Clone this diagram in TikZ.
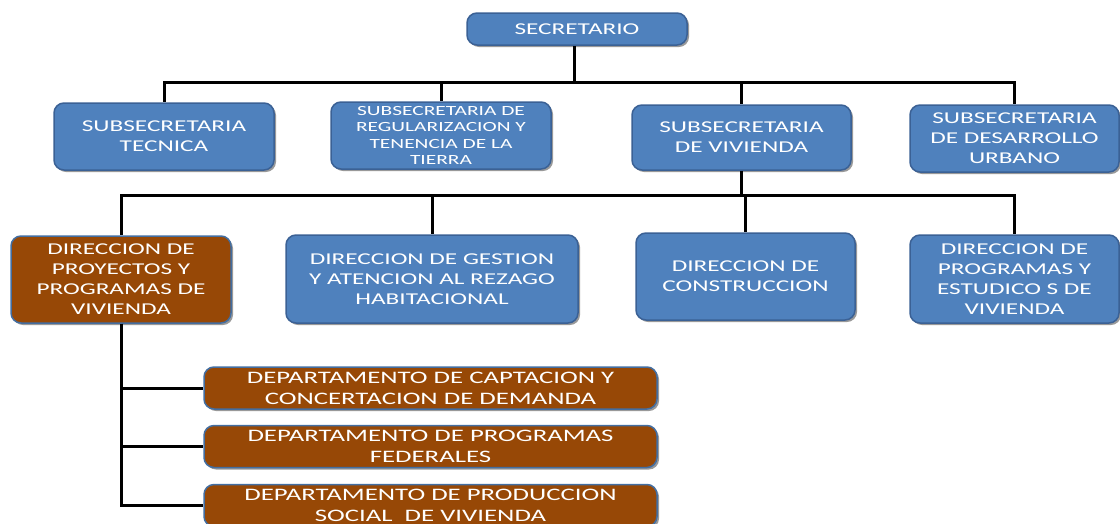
\documentclass[tikz,border=0pt]{standalone}
\usepackage{fontspec}
\setmainfont{Carlito}[FakeStretch=1.53]
\usepackage{xcolor}
\usepackage{tikz}
\usetikzlibrary{shapes,arrows,positioning,shadows}

\definecolor{ofblue}{HTML}{4F81BD}
\definecolor{ofline}{HTML}{3B6195}
\definecolor{ofbrown}{HTML}{974806}

\begin{document}
\begin{tikzpicture}[x=1pt,y=-1pt,
  orgbox/.style={draw=ofline, line width=1.5pt, rounded corners=10pt, text=white, align=center,
    inner sep=0pt, drop shadow={shadow xshift=2pt, shadow yshift=-2pt, fill=black, opacity=0.4}},
  bluebox/.style={orgbox, fill=ofblue},
  brownbox/.style={orgbox, fill=ofbrown, draw=ofblue!85!black},
  conn/.style={line width=3pt, black},
  normtext/.style={font=\fontsize{16.5}{20}\selectfont},
  smalltext/.style={font=\fontsize{14}{16.5}\selectfont},
  deptext/.style={font=\fontsize{17.5}{21}\selectfont}]
\useasboundingbox (0,0) rectangle (1120,523);

% Define nodes
\node[bluebox, normtext, minimum width=220pt, minimum height=32pt] (sec) at (577,29) {SECRETARIO};

\node[bluebox, normtext, minimum width=220pt, minimum height=67pt] (subtec) at (164,136.5) {SUBSECRETARIA\\TECNICA};
\node[bluebox, smalltext, minimum width=220pt, minimum height=67pt] (subreg) at (441,135.5) {SUBSECRETARIA DE\\REGULARIZACION Y\\TENENCIA DE LA\\TIERRA};
\node[bluebox, normtext, minimum width=219pt, minimum height=65pt] (subviv) at (741.5,137.5) {SUBSECRETARIA\\DE VIVIENDA};
\node[bluebox, normtext, minimum width=209pt, minimum height=67pt] (subdes) at (1014.5,138.5) {SUBSECRETARIA\\DE DESARROLLO\\URBANO};

\node[brownbox, normtext, minimum width=220pt, minimum height=87pt] (dirpro) at (121,279.5) {DIRECCION DE\\PROYECTOS Y\\PROGRAMAS DE\\VIVIENDA};
\node[bluebox, normtext, minimum width=292pt, minimum height=88pt] (dirges) at (432,279) {DIRECCION DE GESTION\\Y ATENCION AL REZAGO\\HABITACIONAL};
\node[bluebox, normtext, minimum width=219pt, minimum height=87pt] (dircon) at (745.5,276.5) {DIRECCION DE\\CONSTRUCCION};
\node[bluebox, normtext, minimum width=209pt, minimum height=88pt] (dirprg) at (1014.5,279) {DIRECCION DE\\PROGRAMAS Y\\ESTUDICO S DE\\VIVIENDA};

\node[brownbox, deptext, minimum width=453pt, minimum height=42pt] (depcap) at (430.5,388) {DEPARTAMENTO DE CAPTACION Y\\CONCERTACION DE DEMANDA};
\node[brownbox, deptext, minimum width=453pt, minimum height=42pt] (depfed) at (430.5,446.5) {DEPARTAMENTO DE PROGRAMAS\\FEDERALES};
\node[brownbox, deptext, minimum width=453pt, minimum height=42pt] (depsoc) at (430.5,505.5) {DEPARTAMENTO DE PRODUCCION\\SOCIAL\ \ DE VIVIENDA};

\coordinate (busa) at (574,82);
\coordinate (busb) at (741,195);

% Draw lines
\draw[conn] (sec.south -| busa) -- (busa);
\foreach \n in {subtec,subreg,subviv,subdes}
  \draw[conn] (busa) -| (\n.north);
\draw[conn] (subviv.south -| busb) -- (busb);
\foreach \n in {dirpro,dirges,dircon,dirprg}
  \draw[conn] (busb) -| (\n.north);
\foreach \n in {depcap,depfed,depsoc}
  \draw[conn] (dirpro.south) |- (\n.west);
\end{tikzpicture}
\end{document}
